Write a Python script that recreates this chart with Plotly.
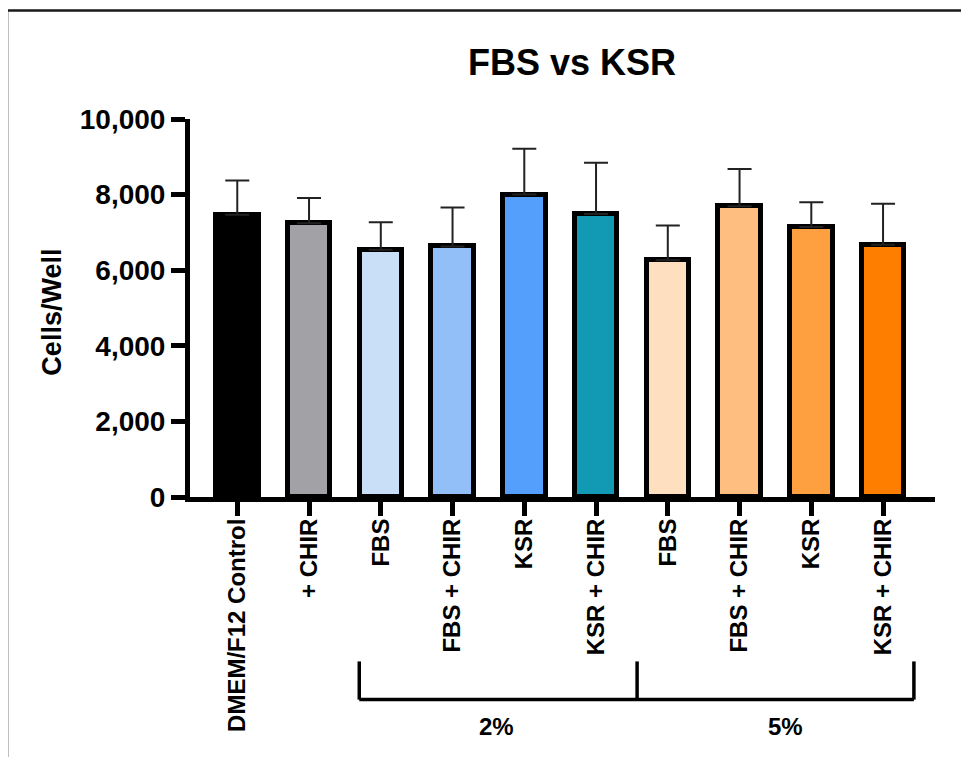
import plotly.graph_objects as go

# ---- data ----
categories = ["DMEM/F12 Control", "+ CHIR", "FBS", "FBS + CHIR", "KSR", "KSR + CHIR",
              "FBS", "FBS + CHIR", "KSR", "KSR + CHIR"]
means = [7470, 7240, 6540, 6630, 8000, 7490, 6260, 7690, 7140, 6670]
sd_upper = [900, 670, 730, 1030, 1210, 1350, 920, 985, 655, 1090]
bar_colors = ["#000000", "#A2A1A6", "#C9DEF7", "#93BFF8", "#539FFB", "#1299B4",
              "#FEE0C1", "#FEBE80", "#FE9F40", "#FE7F00"]
y_ticks = [0, 2000, 4000, 6000, 8000, 10000]
group_labels = ["2%", "5%"]

positions = list(range(len(categories)))
FONT = "Liberation Sans, Arial, Helvetica, sans-serif"

fig = go.Figure()
fig.add_trace(go.Bar(
    x=positions, y=means, width=0.593,
    marker=dict(color=bar_colors, line=dict(color="#000000", width=5)),
    error_y=dict(type="data", array=sd_upper, arrayminus=[0] * len(means),
                 symmetric=False, color="#222222", thickness=2, width=12),
    showlegend=False,
))

# page body has an 8px default margin, so plot area is offset accordingly
fig.update_layout(
    width=969, height=757,
    margin=dict(l=182, r=42, t=111, b=268),
    paper_bgcolor="white", plot_bgcolor="white",
    font=dict(family=FONT, color="black"),
    bargap=0,
)

fig.update_xaxes(
    range=[-0.659, 9.724], tickmode="array", tickvals=positions, ticktext=categories,
    tickangle=-90, tickfont=dict(size=24, weight="bold", family=FONT),
    ticks="outside", ticklen=14, tickwidth=4.5, tickcolor="black", ticklabelstandoff=-7,
    showline=True, linewidth=5, linecolor="black", showgrid=False, zeroline=False,
)
fig.update_yaxes(
    range=[0, 10000], tickmode="array", tickvals=y_ticks, tickformat=",d",
    tickfont=dict(size=28, weight="bold", family=FONT),
    ticks="outside", ticklen=14, tickwidth=4.5, tickcolor="black",
    showline=True, linewidth=5, linecolor="black", showgrid=False, zeroline=False,
)

annotations = [
    dict(text="<b>FBS vs KSR</b>", xref="paper", yref="paper", x=0.5128, y=1.15,
         xanchor="center", yanchor="middle", showarrow=False, font=dict(size=36, family=FONT)),
    dict(text="<b>Cells/Well</b>", xref="paper", yref="paper", x=-0.1846, y=0.489,
         xanchor="center", yanchor="middle", textangle=-90, showarrow=False,
         font=dict(size=27, family=FONT)),
    dict(text="<b>%s</b>" % group_labels[0], xref="x", yref="paper", x=3.618, y=-0.6077,
         xanchor="center", yanchor="middle", showarrow=False, font=dict(size=24, family=FONT)),
    dict(text="<b>%s</b>" % group_labels[1], xref="x", yref="paper", x=7.637, y=-0.6077,
         xanchor="center", yanchor="middle", showarrow=False, font=dict(size=24, family=FONT)),
]
fig.update_layout(annotations=annotations)

br_y = -0.536
br_top = -0.435
line_style = dict(color="black", width=3.5)
shapes = [
    dict(type="line", xref="x", yref="paper", x0=1.70, x1=9.43, y0=br_y, y1=br_y, line=line_style),
    dict(type="line", xref="x", yref="paper", x0=1.70, x1=1.70, y0=br_y, y1=br_top, line=line_style),
    dict(type="line", xref="x", yref="paper", x0=5.572, x1=5.572, y0=br_y, y1=br_top, line=line_style),
    dict(type="line", xref="x", yref="paper", x0=9.43, x1=9.43, y0=br_y, y1=br_top, line=line_style),
    dict(type="rect", xref="paper", yref="paper", x0=-0.2456, x1=1.5, y0=-1.5, y1=1.287,
         line=dict(color="#1a1a1a", width=2.5), fillcolor="rgba(0,0,0,0)", layer="below"),
]
fig.update_layout(shapes=shapes)

fig.write_html("out.html")
